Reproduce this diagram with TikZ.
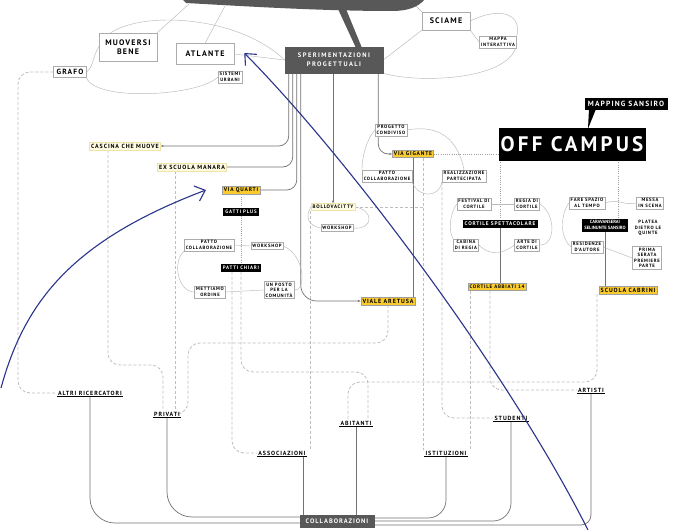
\documentclass[tikz,border=0pt]{standalone}
\usepackage{fontspec}
\setmainfont{PT Sans}[LetterSpace=15]
\usetikzlibrary{arrows.meta,positioning,calc,backgrounds}
\definecolor{bannergray}{RGB}{88,88,88}
\definecolor{hiyellow}{RGB}{249,203,46}
\definecolor{paleyellow}{RGB}{255,251,226}
\definecolor{paleedge}{RGB}{238,228,168}
\definecolor{linkgray}{RGB}{115,115,115}
\definecolor{dashgray}{RGB}{190,190,190}
\definecolor{notecolor}{RGB}{42,52,138}

\begin{document}
\begin{tikzpicture}[x=1pt,y=-1pt,
    box/.style={draw=gray!65,fill=white,line width=0.5pt,align=center,inner sep=1.6pt,
      font=\bfseries\fontsize{4.7}{5.4}\selectfont},
    bigbox/.style={box,inner sep=3pt,font=\bfseries\fontsize{8}{9}\selectfont},
    blackbox/.style={box,fill=black,draw=black,text=white,font=\bfseries\fontsize{5}{6}\selectfont},
    graybox/.style={box,fill=bannergray,draw=bannergray,text=white},
    yellowbox/.style={box,fill=hiyellow,draw=gray!75,font=\bfseries\fontsize{5.5}{6.5}\selectfont},
    palebox/.style={box,fill=paleyellow,draw=paleedge,font=\bfseries\fontsize{6}{7}\selectfont},
    who/.style={inner sep=1pt,font=\bfseries\fontsize{6}{7}\selectfont},
    link/.style={draw=linkgray,line width=0.7pt,rounded corners=10pt},
    thinlink/.style={draw=gray!55,line width=0.45pt},
    dotlink/.style={draw=gray!75,line width=0.6pt,dash pattern=on 1pt off 1.2pt},
    dashlink/.style={draw=dashgray,line width=0.8pt,dash pattern=on 3pt off 2pt,rounded corners=12pt},
    note/.style={draw=notecolor,line width=1.1pt,-{Straight Barb[length=9pt,width=16pt]}}]
  \useasboundingbox (0,0) rectangle (691,530);

  % Banner cut by the top edge
  \fill[bannergray] (183,0) -- (424,0) .. controls (418,7) and (408,11) .. (392,11)
    .. controls (320,11) and (240,6) .. (186,3) -- cycle;
  \fill[bannergray] (338,9) -- (346,9) -- (362,48) -- (356,48) -- cycle;
  \coordinate (bnA) at (189,4);
  \coordinate (bnB) at (225,6);
  \coordinate (bnC) at (414,4);

  % Top nodes
  \node[bigbox,minimum width=58pt,minimum height=28pt] (muoversi) at (128,47) {MUOVERSI\\BENE};
  \node[bigbox,font=\bfseries\fontsize{7.5}{8}\selectfont] (grafo) at (70,72) {GRAFO};
  \node[bigbox,minimum width=58pt,minimum height=21pt] (atlante) at (205,54) {ATLANTE};
  \node[box] (sistemi) at (230,77) {SISTEMI\\URBANI};
  \node[graybox,minimum width=98pt,minimum height=26pt,
    font=\bfseries\fontsize{6.5}{9}\selectfont\addfontfeature{LetterSpace=22}] (sperim) at (334,60)
    {SPERIMENTAZIONI\\PROGETTUALI};
  \node[bigbox,minimum width=48pt,minimum height=18pt] (sciame) at (446,21) {SCIAME};
  \node[box] (mappa) at (498,42) {MAPPA\\INTERATTIVA};
  \node[blackbox,font=\bfseries\fontsize{7.5}{8}\selectfont,inner sep=3pt] (mapping) at (626,104) {MAPPING SANSIRO};
  \node[blackbox,font=\bfseries\fontsize{21}{22}\selectfont,minimum width=145pt,minimum height=32pt] (offcampus) at (572,144) {OFF CAMPUS};

  % Left column
  \node[palebox] (cascina) at (125,146) {CASCINA CHE MUOVE};
  \node[palebox] (exscuola) at (192,167) {EX SCUOLA MANARA};
  \node[yellowbox] (viaquarti) at (241,190) {VIA QUARTI};
  \node[blackbox] (gatti) at (241,212) {GATTI PLUS};
  \node[box] (patto1) at (209,245) {PATTO\\COLLABORAZIONE};
  \node[box] (workshop1) at (267,246) {WORKSHOP};
  \node[blackbox] (patti) at (241,268) {PATTI CHIARI};
  \node[box] (mettiamo) at (210,292) {METTIAMO\\ORDINE};
  \node[box] (unposto) at (279,290) {UN POSTO\\PER LA\\COMUNITÀ};

  % Middle column
  \node[palebox,font=\bfseries\fontsize{5}{6}\selectfont] (bollo) at (333,207) {BOLLOVACITTY};
  \node[box] (workshop2) at (337,228) {WORKSHOP};
  \node[yellowbox,font=\bfseries\fontsize{6}{7}\selectfont] (viale) at (388,301) {VIALE ARETUSA};
  \node[box] (progetto) at (391,130) {PROGETTO\\CONDIVISO};
  \node[yellowbox] (viagigante) at (413,154) {VIA GIGANTE};
  \node[box] (patto2) at (387,176) {PATTO\\COLLABORAZIONE};
  \node[box] (realizz) at (464,176) {REALIZZAZIONE\\PARTECIPATA};

  % Cortile cluster
  \node[box] (festival) at (474,204) {FESTIVAL DI\\CORTILE};
  \node[box] (regia) at (527,204) {REGIA DI\\CORTILE};
  \node[blackbox,font=\bfseries\fontsize{5.3}{6}\selectfont] (cortspett) at (500,224) {CORTILE SPETTACOLARE};
  \node[box] (cabina) at (466,245) {CABINA\\DI REGIA};
  \node[box] (arte) at (527,245) {ARTE DI\\CORTILE};
  \node[yellowbox,font=\bfseries\fontsize{5}{6}\selectfont] (abbiati) at (497,287) {CORTILE ABBIATI 14};

  % Caravanserai cluster
  \node[box] (farespazio) at (587,203) {FARE SPAZIO\\AL TEMPO};
  \node[box] (messa) at (650,203) {MESSA\\IN SCENA};
  \node[blackbox,font=\bfseries\fontsize{4.6}{5.6}\selectfont\addfontfeature{LetterSpace=0}] (caravan) at (605,225)
    {CARAVANSERAI\\SELINUNTE SANSIRO};
  \node[box,draw=none] (platea) at (648,228) {PLATEA\\DIETRO LE\\QUINTE};
  \node[box] (residenze) at (587,247) {RESIDENZE\\D'AUTORE};
  \node[box] (prima) at (647,258) {PRIMA\\SERATA\\PREMIERE\\PARTE};
  \node[yellowbox,font=\bfseries\fontsize{6}{7}\selectfont] (cabrini) at (628,290) {SCUOLA CABRINI};

  % Who takes part
  \node[who] (altri) at (90,393) {ALTRI RICERCATORI};
  \node[who] (privati) at (167,414) {PRIVATI};
  \node[who] (associazioni) at (282,453) {ASSOCIAZIONI};
  \node[who] (abitanti) at (356,423) {ABITANTI};
  \node[who] (istituzioni) at (446,453) {ISTITUZIONI};
  \node[who] (studenti) at (511,418) {STUDENTI};
  \node[who] (artisti) at (591,390) {ARTISTI};
  \node[graybox,font=\bfseries\fontsize{6.5}{7}\selectfont,minimum width=74pt,minimum height=12pt] (collab) at (337,521) {COLLABORAZIONI};
  \foreach \n in {altri,privati,associazioni,abitanti,istituzioni,studenti,artisti}
    \draw[line width=0.6pt] (\n.south west) -- (\n.south east);

  \begin{scope}[on background layer]
    \fill[white] (0,0) rectangle (691,530);

    % Dashed network down to the partners
    \draw[dashlink] (grafo.west) -- (18,72) -- (18,393) -- (altri.west);
    \draw[dashlink] ([xshift=-17pt]cascina.south) -- (108,365) -- (163,365) -- ([xshift=-4pt]privati.north);
    \draw[dashlink] ([xshift=-17pt]exscuola.south) -- ([xshift=8pt]privati.north);
    \draw[dashlink] (viale.south) -- (388,343) -- (188,343) -- (188,414) -- (privati.east);
    \draw[dashlink] (patti.south) -- (241,372) -- (368,372) -- ([xshift=12pt]abitanti.north);
    \draw[dashlink] ([xshift=-9pt]patti.south) -- (232,453) -- (associazioni.west);
    \draw[dashlink] (bollo.south west) -- (bollo.south west |- associazioni.north);
    \draw[dashlink] ([xshift=-31pt]cabrini.south) -- (597,382) -- (348,382) -- ([xshift=-8pt]abitanti.north);
    \draw[dashlink] ([xshift=10pt]viagigante.south) -- ([xshift=-23pt]istituzioni.north);
    \draw[dashlink] ([xshift=-22pt]realizz.south) -- (442,418) -- (studenti.west);
    \draw[dashlink] ([xshift=-27pt]abbiati.south) -- ([xshift=24pt]istituzioni.north);
    \draw[dashlink] ([xshift=-7pt]abbiati.south) -- (490,390) -- (artisti.west);
    \draw[dashlink] (bollo.east) -- ([xshift=10pt]viagigante.south |- bollo.east);

    % Hand drawn links at the top
    \draw[thinlink] (bnA) -- (muoversi.north east);
    \draw[thinlink] (bnB) -- (atlante.north);
    \draw[thinlink] (bnC) -- (sciame.north west);
    \draw[thinlink] (muoversi.west) .. controls (92,58) and (94,66) .. (grafo.east);
    \draw[thinlink] (grafo.south east) .. controls (96,102) and (200,96) .. (sistemi.west);
    \draw[thinlink] (muoversi.west) .. controls (110,10) and (230,8) .. (sperim.west);
    \draw[thinlink] (atlante.east) -- (sperim.west);
    \draw[thinlink] (sperim.east) -- (sciame.south west);
    \draw[thinlink] (sperim.south east) .. controls (420,84) and (515,80) .. (mappa.east);
    \draw[thinlink] (sciame.east) .. controls (505,4) and (522,18) .. (mappa.north east);
    \draw[thinlink] (sciame.south east) -- (mappa.west);

    % Links out of the project box
    \draw[link,-{Stealth[length=3pt]}] ($(sperim.south west)+(4,0)$) |- (cascina.east);
    \draw[link] ($(sperim.south west)+(8,0)$) |- (exscuola.east);
    \draw[link] ($(sperim.south west)+(12,0)$) |- (viaquarti.east);
    \draw[link,rounded corners=16pt,-{Stealth[length=3pt]}] ($(sperim.south west)+(16,0)$) |- (viale.west);
    \draw[link,-{Stealth[length=3pt]}] (sperim.south -| bollo.north) -- (bollo.north);
    \draw[link,-{Stealth[length=3pt]}] ($(sperim.south east)+(-5,0)$) |- (viagigante.west);
    \draw[link] (viagigante.south) -- (viagigante.south |- viale.north);

    % Off campus
    \draw[dotlink] (viagigante.east) -- (viagigante.east -| offcampus.west);
    \draw[dotlink] (offcampus.south -| cortspett.north) -- (cortspett.north);
    \coordinate (ocR) at ($(offcampus.south)+(46,0)$);
    \draw[dotlink] (ocR) -- (ocR |- caravan.north);
    \draw[link] (cortspett.south) -- (cortspett.south |- abbiati.north);
    \draw[link] (caravan.south) -- (caravan.south |- cabrini.north);

    % Via Quarti cluster
    \draw[dotlink] (viaquarti.south) -- (gatti.north);
    \draw[dotlink] (gatti.south) -- (patti.north);
    \draw[thinlink] (patto1.east) -- (workshop1.west);
    \draw[thinlink] (patto1.south west) .. controls (172,262) and (178,292) .. (mettiamo.west);
    \draw[thinlink] (workshop1.east) .. controls (306,256) and (306,292) .. (unposto.east);
    \draw[thinlink] (mettiamo.east) -- (unposto.west);

    % Bollovacitty cluster
    \draw[thinlink] (bollo.east) .. controls (374,210) and (374,230) .. (workshop2.east);
    \draw[thinlink] (bollo.west) .. controls (305,216) and (308,226) .. (workshop2.west);

    % Via Gigante cluster
    \draw[thinlink] (progetto.west) .. controls (366,140) and (362,158) .. (patto2.north west);
    \draw[thinlink] (patto2.south east) .. controls (420,200) and (440,196) .. (realizz.south west);
    \draw[thinlink] (progetto.east) .. controls (440,124) and (458,140) .. (realizz.north);

    % Cortile cluster
    \draw[thinlink] (festival.east) -- (regia.west);
    \draw[thinlink] (regia.east) .. controls (556,214) and (556,246) .. (arte.east);
    \draw[thinlink] (cabina.east) .. controls (492,258) and (505,252) .. (arte.west);
    \draw[thinlink] (festival.west) .. controls (450,214) and (448,230) .. (cabina.north west);

    % Caravanserai cluster
    \draw[thinlink] (farespazio.east) .. controls (618,198) and (624,206) .. (messa.west);
    \draw[thinlink] (residenze.east) -- (prima.west);
    \draw[thinlink] (farespazio.west) .. controls (560,216) and (560,238) .. (residenze.west);

    % Partners into the collaborations
    \draw[link,rounded corners=25pt] (altri.south) |- ($(collab.west)+(0,2)$);
    \draw[link,rounded corners=25pt] (privati.south) |- ($(collab.west)+(0,-4)$);
    \path (associazioni.south east) ++(-3,0) coordinate (asx);
    \draw[link] (asx) -- (asx |- collab.north);
    \draw[link] (abitanti.south) -- (abitanti.south |- collab.north);
    \draw[link,rounded corners=18pt] (istituzioni.south) |- ($(collab.east)+(0,-3)$);
    \draw[link,rounded corners=18pt] (studenti.south) |- (collab.east);
    \draw[link,rounded corners=10pt] (artisti.south) |- ($(collab.east)+(0,4)$);
  \end{scope}

  % Mapping pointer
  \fill ($(mapping.south)+(-37,-1)$) -- ($(mapping.south)+(-30,-1)$) -- ($(offcampus.north)+(16,1)$) -- cycle;

  % Blue notes
  \coordinate (noteA) at (1,388);
  \coordinate (noteB) at (588,530);
  \draw[note] (noteA) .. controls (25,300) and (74,240) .. ([xshift=-16pt]viaquarti.west);
  \draw[note] (noteB) .. controls (510,375) and (350,160) .. ([xshift=10pt,yshift=1pt]atlante.east);
\end{tikzpicture}
\end{document}
